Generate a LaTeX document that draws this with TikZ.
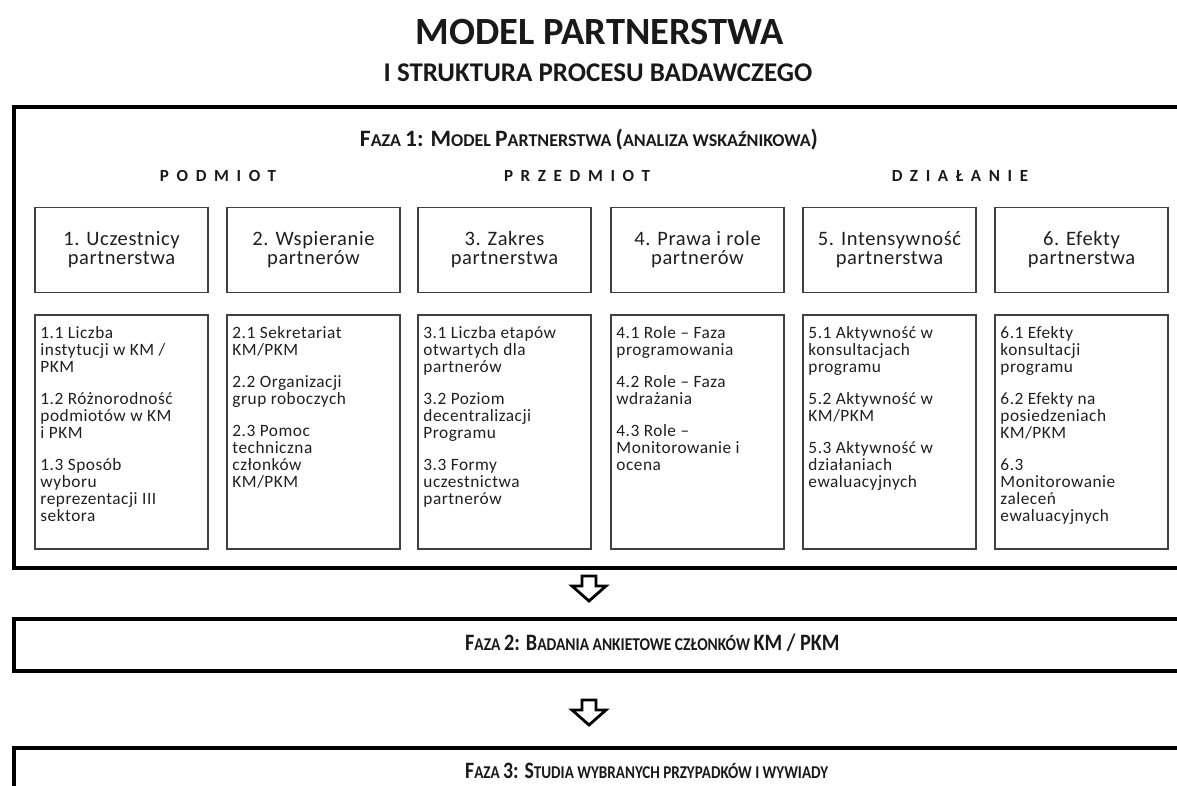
\documentclass[tikz,border=0pt]{standalone}
\usepackage{fontspec}
\setmainfont{Carlito}
\newfontfamily\dfont[LetterSpace=3]{Carlito}
\newfontfamily\hfont[LetterSpace=3]{Carlito}
\newfontfamily\catfont[LetterSpace=45]{Carlito}
\newcommand{\BigC}[1]{{\fontsize{23.5}{26}\selectfont #1}}
\newcommand{\SmC}[1]{{\fontsize{18}{20}\selectfont #1}}
\begin{document}
\begin{tikzpicture}[x=1pt,y=-1pt,
 frame/.style={draw=black, line width=4pt, inner sep=0, anchor=north west},
 hbox/.style={draw=black!75, line width=1.5pt, minimum width=173pt, minimum height=85pt, inner sep=0, align=center, font=\hfont\fontsize{20.5}{19}\selectfont, text=black!88},
 dbox/.style={draw=black!75, line width=1.5pt, minimum width=173pt, minimum height=234pt, inner sep=0},
 dtext/.style={anchor=north west, inner sep=0, align=left, font=\dfont\fontsize{17.3}{17}\selectfont, text=black!88},
 cat/.style={font=\catfont\bfseries\fontsize{17}{19}\selectfont, text=black!90},
 phase/.style={font=\bfseries\fontsize{18}{20}\selectfont, text=black!90, inner sep=0},
 blockarrow/.style={draw=black, line width=2.8pt, fill=white, line join=miter}
]
\useasboundingbox (0,0) rectangle (1177,786);
\clip (0,0) rectangle (1177,786);

% frames
\node[frame, minimum width=1200pt, minimum height=461pt] (f1) at (12,105) {};
\node[frame, minimum width=1200pt, minimum height=52pt] (f2) at (12,617) {};
\node[frame, minimum width=1200pt, minimum height=80pt] (f3) at (12,746) {};

% titles
\node[font=\bfseries\fontsize{38.5}{42}\selectfont, text=black!90, inner sep=0] (title) at (600,32) {MODEL PARTNERSTWA};
\node[font=\bfseries\fontsize{27}{29}\selectfont, text=black!90, inner sep=0] (sub) at (598,73) {I STRUKTURA PROCESU BADAWCZEGO};

% phase 1 heading
\node[phase] (p1) at (589,140) {\BigC{F}\SmC{AZA} \BigC{1: M}\SmC{ODEL} \BigC{P}\SmC{ARTNERSTWA} \BigC{(}\SmC{ANALIZA WSKAŹNIKOWA}\BigC{)}};

% categories
\node[cat] (podmiot) at (218,176) {PODMIOT};
\node[cat] (przedmiot) at (577,176) {PRZEDMIOT};
\node[cat] (dzialanie) at (960,176) {DZIAŁANIE};

% header boxes
\node[hbox] (h1) at (121.5,250) {1. Uczestnicy\\partnerstwa};
\node[hbox] (h2) at (313.5,250) {2. Wspieranie\\partnerów};
\node[hbox] (h3) at (504.5,250) {3. Zakres\\partnerstwa};
\node[hbox] (h4) at (697.5,250) {4. Prawa i role\\partnerów};
\node[hbox] (h5) at (889.5,250) {5. Intensywność\\partnerstwa};
\node[hbox] (h6) at (1081.5,250) {6. Efekty\\partnerstwa};

% detail boxes
\node[dbox] (d1) at (121.5,432) {};
\node[dbox] (d2) at (313.5,432) {};
\node[dbox] (d3) at (504.5,432) {};
\node[dbox] (d4) at (697.5,432) {};
\node[dbox] (d5) at (889.5,432) {};
\node[dbox] (d6) at (1081.5,432) {};

\node[dtext] (t1) at ([xshift=6pt,yshift=-12pt]d1.north west) {\rule{0pt}{11.5pt}1.1 Liczba\\instytucji w KM /\\PKM\\[15pt]1.2 Różnorodność\\podmiotów w KM\\i PKM\\[15pt]1.3 Sposób\\wyboru\\reprezentacji III\\sektora};
\node[dtext] (t2) at ([xshift=6pt,yshift=-12pt]d2.north west) {\rule{0pt}{11.5pt}2.1 Sekretariat\\KM/PKM\\[15pt]2.2 Organizacji\\grup roboczych\\[15pt]2.3 Pomoc\\techniczna\\członków\\KM/PKM};
\node[dtext] (t3) at ([xshift=6pt,yshift=-12pt]d3.north west) {\rule{0pt}{11.5pt}3.1 Liczba etapów\\otwartych dla\\partnerów\\[15pt]3.2 Poziom\\decentralizacji\\Programu\\[15pt]3.3 Formy\\uczestnictwa\\partnerów};
\node[dtext] (t4) at ([xshift=6pt,yshift=-12pt]d4.north west) {\rule{0pt}{11.5pt}4.1 Role – Faza\\programowania\\[15pt]4.2 Role – Faza\\wdrażania\\[15pt]4.3 Role –\\Monitorowanie i\\ocena};
\node[dtext] (t5) at ([xshift=6pt,yshift=-12pt]d5.north west) {\rule{0pt}{11.5pt}5.1 Aktywność w\\konsultacjach\\programu\\[15pt]5.2 Aktywność w\\KM/PKM\\[15pt]5.3 Aktywność w\\działaniach\\ewaluacyjnych};
\node[dtext] (t6) at ([xshift=6pt,yshift=-12pt]d6.north west) {\rule{0pt}{11.5pt}6.1 Efekty\\konsultacji\\programu\\[15pt]6.2 Efekty na\\posiedzeniach\\KM/PKM\\[15pt]6.3\\Monitorowanie\\zaleceń\\ewaluacyjnych};

% arrows between phases
\coordinate (a1) at (589,576);
\coordinate (a2) at (589,700);
\draw[blockarrow] (a1) ++(-7,0) -- ++(14,0) -- ++(0,10) -- ++(10,0) -- ++(-17,15) -- ++(-17,-15) -- ++(10,0) -- cycle;
\draw[blockarrow] (a2) ++(-7,0) -- ++(14,0) -- ++(0,10) -- ++(10,0) -- ++(-17,15) -- ++(-17,-15) -- ++(10,0) -- cycle;

% phase 2 and 3 headings
\node[phase, anchor=west] (p2) at (465,643) {\scalebox{0.86}[1]{\BigC{F}\SmC{AZA} \BigC{2: B}\SmC{ADANIA ANKIETOWE CZŁONKÓW} \BigC{KM / PKM}}};
\node[phase, anchor=west] (p3) at (465,771) {\scalebox{0.84}[1]{\BigC{F}\SmC{AZA} \BigC{3: S}\SmC{TUDIA WYBRANYCH PRZYPADKÓW I WYWIADY}}};
\end{tikzpicture}
\end{document}
